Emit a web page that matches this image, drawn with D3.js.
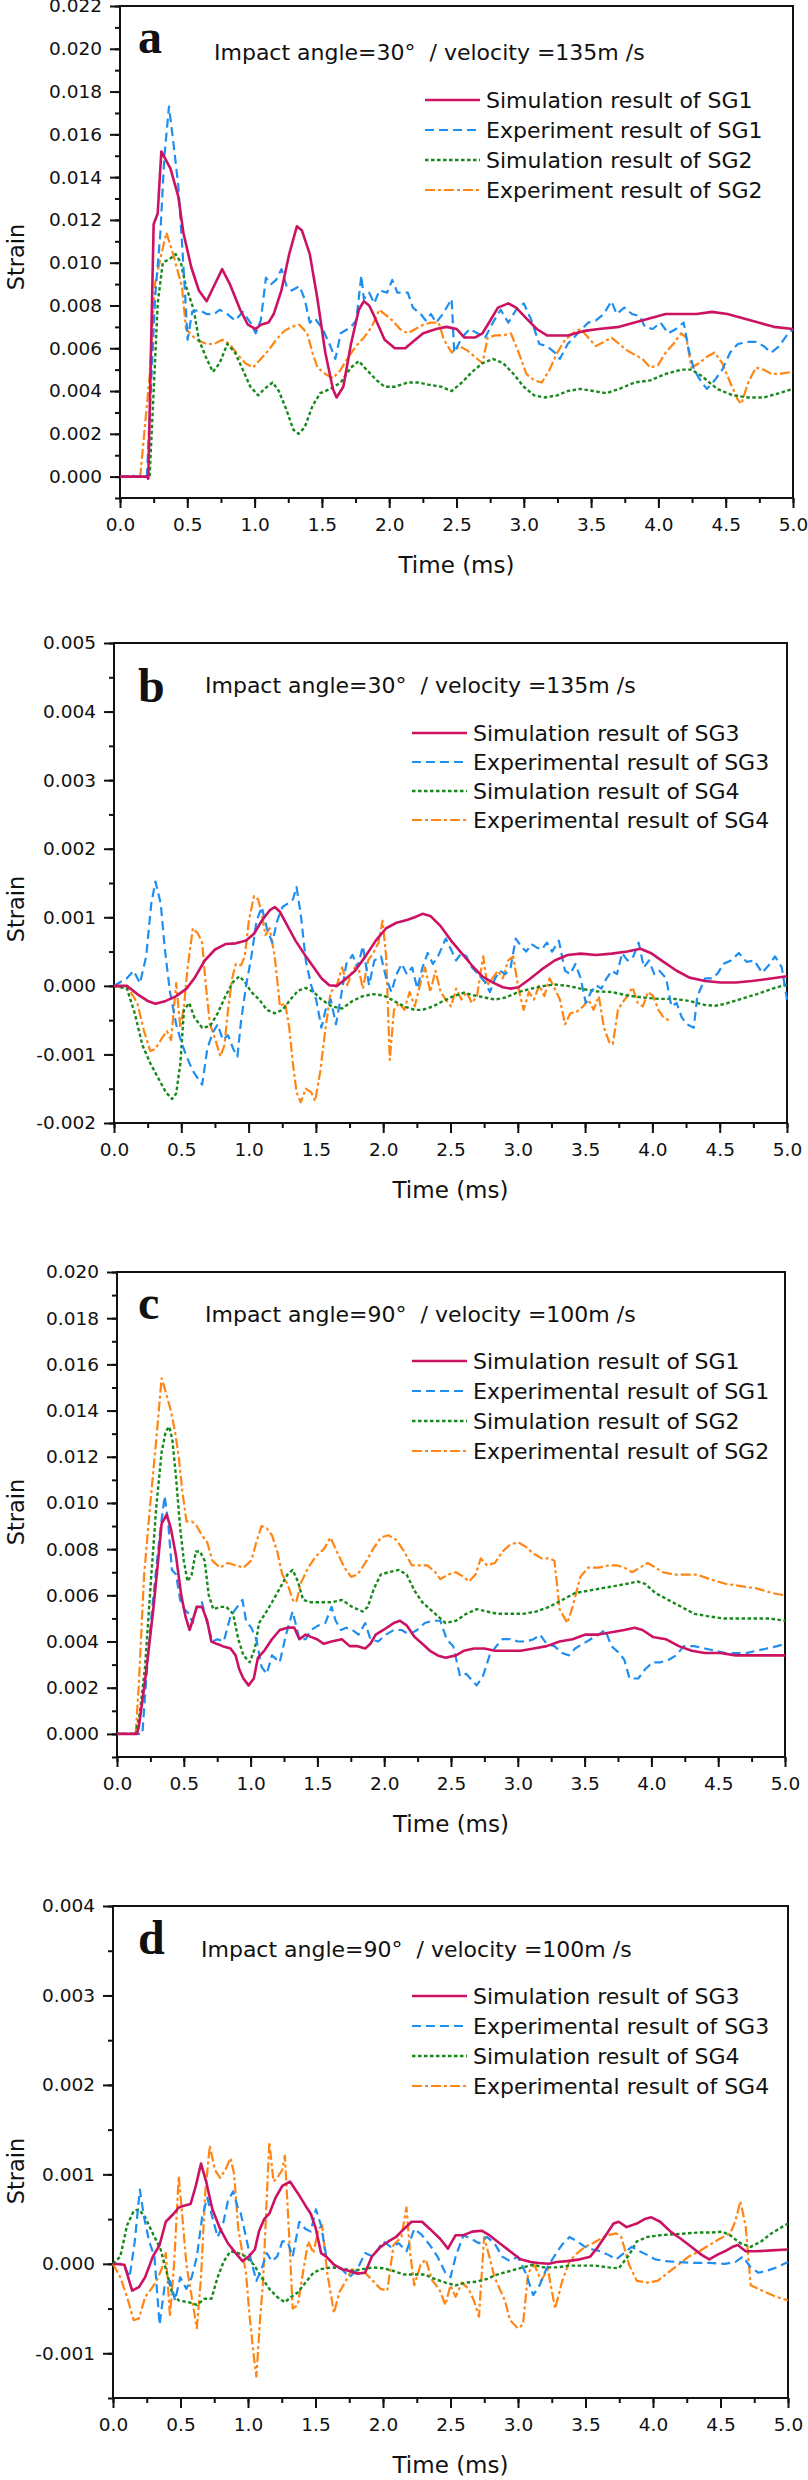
<!DOCTYPE html>
<html>
<head>
<meta charset="utf-8">
<script src="https://cdn.jsdelivr.net/npm/d3@7"></script>
<style>
  body { margin: 0; background: #fff; }
  svg { display: block; }
  text { font-family: "DejaVu Sans", sans-serif; fill: #111; }
</style>
</head>
<body>
<div id="chart"></div>
<script>
(function () {
  'use strict';

  // ---- data: [time (ms), strain] ----
  var aSimSG1 = [[0,0],[0.2,0],[0.21,-0.0001],[0.25,0.0118],[0.28,0.0123],[0.307,0.0152],[0.375,0.0144],[0.433,0.0131],[0.471,0.0114],[0.529,0.0098],[0.586,0.0087],[0.644,0.0082],[0.682,0.0087],[0.759,0.0097],[0.816,0.009],[0.893,0.0078],[0.95,0.0071],[1.008,0.0069],[1.046,0.0071],[1.103,0.0072],[1.142,0.0076],[1.199,0.0087],[1.257,0.0104],[1.314,0.0117],[1.352,0.0115],[1.41,0.0104],[1.467,0.0083],[1.525,0.0058],[1.582,0.0041],[1.609,0.0037],[1.659,0.0042],[1.716,0.0062],[1.774,0.0078],[1.812,0.0082],[1.851,0.008],[1.889,0.0075],[1.966,0.0064],[2.042,0.006],[2.119,0.006],[2.176,0.0063],[2.253,0.0067],[2.349,0.0069],[2.425,0.007],[2.502,0.0069],[2.559,0.0065],[2.636,0.0065],[2.693,0.0067],[2.751,0.0073],[2.808,0.0079],[2.885,0.0081],[2.943,0.0079],[3.019,0.0074],[3.096,0.0069],[3.172,0.0066],[3.249,0.0066],[3.326,0.0066],[3.44,0.0068],[3.556,0.0069],[3.709,0.007],[3.824,0.0072],[3.939,0.0074],[4.054,0.0076],[4.169,0.0076],[4.284,0.0076],[4.398,0.0077],[4.513,0.0076],[4.628,0.0074],[4.743,0.0072],[4.858,0.007],[5,0.0069]];
  var aExpSG1 = [[0,0],[0.07,0],[0.09,0.0001],[0.11,0],[0.2,0],[0.26,0.0083],[0.3,0.0114],[0.33,0.015],[0.364,0.0173],[0.395,0.0157],[0.433,0.0136],[0.46,0.011],[0.483,0.0086],[0.502,0.0064],[0.536,0.0077],[0.586,0.0078],[0.644,0.0076],[0.7,0.0076],[0.74,0.0078],[0.797,0.0076],[0.854,0.0073],[0.912,0.0077],[0.969,0.0072],[1.008,0.0067],[1.046,0.0073],[1.084,0.0093],[1.123,0.009],[1.16,0.0092],[1.2,0.0097],[1.238,0.0089],[1.276,0.0087],[1.333,0.0089],[1.372,0.0083],[1.41,0.0072],[1.448,0.0074],[1.506,0.0069],[1.563,0.0061],[1.6,0.0055],[1.64,0.0067],[1.716,0.007],[1.755,0.0073],[1.793,0.0094],[1.812,0.0083],[1.851,0.0086],[1.889,0.0081],[1.927,0.0087],[1.985,0.0086],[2.023,0.0092],[2.061,0.0086],[2.138,0.0086],[2.176,0.0079],[2.234,0.0076],[2.272,0.0073],[2.31,0.0076],[2.349,0.0072],[2.398,0.0076],[2.464,0.0083],[2.483,0.0058],[2.54,0.0065],[2.598,0.0069],[2.655,0.0067],[2.713,0.0065],[2.77,0.0072],[2.828,0.0078],[2.885,0.0072],[2.943,0.0078],[3.0,0.0081],[3.057,0.0073],[3.115,0.0062],[3.172,0.0061],[3.23,0.0058],[3.268,0.0055],[3.326,0.0062],[3.402,0.0067],[3.479,0.0072],[3.536,0.0073],[3.594,0.0076],[3.651,0.0082],[3.69,0.0076],[3.747,0.0079],[3.805,0.0076],[3.862,0.0075],[3.9,0.007],[3.958,0.0069],[4.015,0.0072],[4.073,0.0067],[4.13,0.0069],[4.188,0.0072],[4.226,0.0059],[4.264,0.005],[4.322,0.0044],[4.36,0.0041],[4.418,0.0045],[4.475,0.005],[4.533,0.0058],[4.59,0.0062],[4.667,0.0063],[4.724,0.0063],[4.782,0.0061],[4.839,0.0058],[4.897,0.0061],[4.954,0.0066],[5,0.0069]];
  var aSimSG2 = [[0,0],[0.22,0],[0.25,0.004],[0.28,0.0081],[0.318,0.01],[0.375,0.0102],[0.414,0.0104],[0.452,0.01],[0.49,0.0089],[0.548,0.0078],[0.586,0.0064],[0.644,0.0055],[0.69,0.0049],[0.74,0.0053],[0.797,0.0062],[0.854,0.0058],[0.912,0.005],[0.969,0.0042],[1.027,0.0038],[1.073,0.0041],[1.134,0.0044],[1.18,0.004],[1.238,0.0031],[1.287,0.0022],[1.326,0.002],[1.372,0.0023],[1.43,0.0033],[1.487,0.0039],[1.563,0.0041],[1.64,0.0044],[1.716,0.0051],[1.774,0.0054],[1.831,0.005],[1.908,0.0045],[1.966,0.0042],[2.042,0.0042],[2.138,0.0044],[2.215,0.0044],[2.291,0.0043],[2.387,0.0042],[2.464,0.004],[2.54,0.0044],[2.617,0.0049],[2.693,0.0053],[2.77,0.0055],[2.847,0.0053],[2.923,0.0048],[3.0,0.0042],[3.077,0.0038],[3.153,0.0037],[3.249,0.0038],[3.326,0.004],[3.421,0.0041],[3.517,0.004],[3.613,0.0039],[3.709,0.0041],[3.824,0.0044],[3.939,0.0045],[4.054,0.0048],[4.169,0.005],[4.245,0.005],[4.322,0.0047],[4.437,0.0041],[4.552,0.0038],[4.667,0.0037],[4.782,0.0037],[4.897,0.0039],[5,0.0041]];
  var aExpSG2 = [[0,0],[0.15,0],[0.22,0.0047],[0.26,0.009],[0.307,0.0104],[0.345,0.0114],[0.395,0.0104],[0.433,0.0095],[0.46,0.0089],[0.49,0.0069],[0.52,0.0067],[0.567,0.0064],[0.644,0.0062],[0.7,0.0062],[0.759,0.0064],[0.816,0.0062],[0.874,0.0057],[0.931,0.0053],[0.989,0.0051],[1.046,0.0055],[1.103,0.0059],[1.161,0.0064],[1.218,0.0068],[1.276,0.007],[1.333,0.0071],[1.391,0.0067],[1.43,0.0058],[1.467,0.0051],[1.525,0.0048],[1.582,0.0046],[1.64,0.005],[1.697,0.0056],[1.755,0.0061],[1.812,0.0065],[1.87,0.007],[1.927,0.0078],[1.966,0.0076],[2.023,0.0073],[2.08,0.0069],[2.138,0.0067],[2.195,0.0069],[2.253,0.0071],[2.31,0.0072],[2.368,0.0072],[2.406,0.0064],[2.464,0.0058],[2.521,0.0061],[2.579,0.0059],[2.636,0.0056],[2.693,0.0053],[2.732,0.0065],[2.789,0.0066],[2.847,0.0066],[2.904,0.0067],[2.962,0.0058],[3.019,0.0048],[3.077,0.0045],[3.134,0.0044],[3.192,0.005],[3.249,0.0058],[3.307,0.0064],[3.364,0.0067],[3.421,0.0069],[3.479,0.0065],[3.536,0.0061],[3.594,0.0063],[3.651,0.0065],[3.709,0.0062],[3.766,0.0059],[3.824,0.0057],[3.881,0.0055],[3.939,0.0051],[3.996,0.0052],[4.054,0.0058],[4.111,0.0062],[4.169,0.0067],[4.207,0.0065],[4.245,0.0051],[4.303,0.0053],[4.36,0.0056],[4.418,0.0058],[4.475,0.0053],[4.533,0.0044],[4.59,0.0036],[4.617,0.0034],[4.667,0.0044],[4.724,0.0051],[4.782,0.005],[4.839,0.0048],[4.897,0.0048],[5,0.0049]];

  var bSimSG3 = [[0,0],[0.096,0],[0.173,-0.00012],[0.25,-0.00022],[0.308,-0.00026],[0.385,-0.00022],[0.462,-0.00015],[0.539,-0.00004],[0.597,0.00011],[0.674,0.00037],[0.751,0.00053],[0.828,0.00061],[0.905,0.00062],[0.982,0.00066],[1.04,0.00076],[1.098,0.00095],[1.156,0.0011],[1.194,0.00115],[1.233,0.00108],[1.29,0.00087],[1.348,0.00066],[1.425,0.00043],[1.483,0.00027],[1.541,0.00011],[1.599,0.00001],[1.656,0],[1.714,0.00009],[1.791,0.00022],[1.868,0.00043],[1.945,0.00066],[2.022,0.00084],[2.099,0.00092],[2.176,0.00096],[2.234,0.001],[2.292,0.00105],[2.35,0.00102],[2.427,0.00087],[2.504,0.00066],[2.581,0.00048],[2.658,0.0003],[2.735,0.00014],[2.812,0.00005],[2.889,-0.00002],[2.947,-0.00004],[3.005,-0.00002],[3.082,0.00009],[3.178,0.00024],[3.274,0.00037],[3.371,0.00045],[3.467,0.00047],[3.582,0.00045],[3.698,0.00047],[3.814,0.0005],[3.91,0.00054],[3.987,0.00048],[4.083,0.00035],[4.18,0.00022],[4.276,0.00012],[4.391,0.00007],[4.507,0.00005],[4.622,0.00005],[4.738,0.00007],[4.854,0.0001],[5,0.00014]];
  var bExpSG3 = [[0,0],[0.096,0.00011],[0.146,0.00022],[0.193,0.00004],[0.239,0.00043],[0.277,0.0012],[0.308,0.00152],[0.347,0.0012],[0.378,0.00053],[0.416,-0.00009],[0.462,-0.00056],[0.5,-0.00082],[0.539,-0.00103],[0.586,-0.00124],[0.636,-0.00139],[0.655,-0.00144],[0.693,-0.00092],[0.732,-0.00069],[0.77,-0.00056],[0.809,-0.00079],[0.847,-0.00072],[0.886,-0.00092],[0.917,-0.00103],[0.944,-0.00051],[0.982,0.00001],[1.021,0.00043],[1.059,0.00095],[1.098,0.00115],[1.136,0.00084],[1.175,0.00063],[1.213,0.00095],[1.252,0.00115],[1.29,0.0012],[1.329,0.00126],[1.356,0.00144],[1.387,0.00105],[1.425,0.00037],[1.464,0.00001],[1.502,-0.0002],[1.541,-0.00061],[1.572,-0.00035],[1.61,-0.0002],[1.649,-0.00056],[1.687,-0.00015],[1.726,0.00032],[1.772,0.00045],[1.81,0.00027],[1.849,0.00058],[1.895,0.00001],[1.934,0.00037],[1.984,0.00043],[2.022,0.00011],[2.061,-0.00009],[2.099,0.00017],[2.138,0.00032],[2.176,0.00017],[2.215,0.00027],[2.253,-0.00004],[2.292,0.00027],[2.331,0.00048],[2.369,0.00032],[2.407,0.00043],[2.465,0.00069],[2.504,0.00053],[2.542,0.00037],[2.581,0.00048],[2.619,0.00043],[2.658,0.00027],[2.697,0.00019],[2.754,0.00006],[2.793,-0.00009],[2.831,0.00011],[2.87,0.00022],[2.908,0.00017],[2.947,0.00027],[2.985,0.00069],[3.024,0.00058],[3.062,0.0005],[3.101,0.00061],[3.139,0.00056],[3.178,0.00053],[3.216,0.00063],[3.255,0.0005],[3.305,0.00066],[3.351,0.00022],[3.39,0.00017],[3.428,0.00032],[3.467,0.00011],[3.505,-0.00025],[3.544,-0.00009],[3.582,0.00001],[3.621,-0.00004],[3.66,0.00011],[3.698,0.00022],[3.737,0.00017],[3.775,0.00048],[3.814,0.00037],[3.852,0.0004],[3.898,0.00063],[3.937,0.00027],[3.975,0.00037],[4.014,0.00017],[4.052,0.00022],[4.102,0.00011],[4.141,-0.0003],[4.18,-0.00025],[4.218,-0.00046],[4.257,-0.00056],[4.307,-0.00061],[4.334,-0.00015],[4.391,0.00011],[4.449,0.00011],[4.488,0.00019],[4.526,0.00032],[4.584,0.00037],[4.642,0.00048],[4.7,0.00035],[4.757,0.00037],[4.815,0.00019],[4.873,0.00032],[4.911,0.00043],[4.961,0.00027],[5,-0.0002]];
  var bSimSG4 = [[0,0],[0.096,-0.00004],[0.154,-0.0004],[0.212,-0.00087],[0.27,-0.00113],[0.327,-0.00134],[0.385,-0.00155],[0.431,-0.00165],[0.462,-0.00157],[0.493,-0.00113],[0.52,-0.00035],[0.559,-0.00025],[0.597,-0.00046],[0.655,-0.00061],[0.713,-0.00059],[0.77,-0.0004],[0.828,-0.00015],[0.886,0.00006],[0.932,0.00014],[0.971,0.00006],[1.021,-0.00009],[1.079,-0.0002],[1.136,-0.00035],[1.194,-0.0004],[1.252,-0.00035],[1.31,-0.0002],[1.368,-0.00007],[1.425,-0.00003],[1.483,-0.00009],[1.541,-0.0002],[1.618,-0.0003],[1.695,-0.00033],[1.772,-0.00022],[1.849,-0.00015],[1.926,-0.00012],[2.003,-0.00014],[2.08,-0.00022],[2.157,-0.0003],[2.234,-0.00035],[2.292,-0.00035],[2.369,-0.0003],[2.446,-0.00022],[2.523,-0.00015],[2.6,-0.0001],[2.677,-0.00014],[2.754,-0.00017],[2.831,-0.0002],[2.908,-0.00017],[3.005,-0.00009],[3.101,-0.00004],[3.197,0],[3.274,0.00002],[3.371,0],[3.467,-0.00004],[3.582,-0.00008],[3.698,-0.00009],[3.814,-0.00014],[3.929,-0.00017],[4.045,-0.00019],[4.16,-0.00019],[4.276,-0.00022],[4.391,-0.00028],[4.468,-0.00029],[4.545,-0.00026],[4.661,-0.00019],[4.777,-0.00012],[4.892,-0.00004],[5,0.00002]];
  var bExpSG4 = [[0,0],[0.108,-0.00004],[0.173,-0.00025],[0.223,-0.00066],[0.27,-0.00095],[0.308,-0.00092],[0.354,-0.00077],[0.393,-0.00066],[0.424,-0.00079],[0.462,0.00004],[0.493,-0.00061],[0.52,-0.0003],[0.547,0.00027],[0.586,0.00084],[0.624,0.00076],[0.655,0.00063],[0.682,0.00001],[0.713,-0.00056],[0.751,-0.00077],[0.79,-0.00103],[0.82,-0.00087],[0.847,-0.00035],[0.878,0.00011],[0.905,0.00032],[0.944,0.0003],[0.971,0.00043],[1.002,0.00095],[1.04,0.00131],[1.071,0.00126],[1.098,0.00105],[1.125,0.00074],[1.156,0.00084],[1.194,0.00043],[1.233,-0.0003],[1.271,-0.00025],[1.302,-0.00061],[1.329,-0.00113],[1.356,-0.00155],[1.387,-0.0017],[1.425,-0.0015],[1.464,-0.00155],[1.495,-0.00168],[1.533,-0.00124],[1.572,-0.00061],[1.61,-0.00009],[1.656,0.00001],[1.695,0.00027],[1.733,0.00001],[1.772,0.00022],[1.81,0.00032],[1.849,-0.00004],[1.888,0.00037],[1.926,0.00048],[1.965,0.00063],[1.995,0.00095],[2.022,0.00043],[2.049,-0.00108],[2.08,-0.00035],[2.119,-0.00025],[2.157,-0.00035],[2.196,-0.00009],[2.234,-0.0003],[2.273,0.00001],[2.311,0.00027],[2.35,-0.00009],[2.388,0.00022],[2.427,-0.00009],[2.465,-0.0002],[2.504,-0.0003],[2.542,-0.00004],[2.581,-0.0002],[2.619,-0.00009],[2.658,-0.00025],[2.697,-0.00015],[2.743,0.00043],[2.773,0.00001],[2.812,0.00011],[2.851,0.00022],[2.889,0.00011],[2.928,0.00037],[2.966,0.00043],[3.005,-0.00004],[3.043,-0.00035],[3.082,-0.00009],[3.12,-0.0002],[3.159,0.00001],[3.197,-0.00015],[3.236,0.00011],[3.274,-0.00004],[3.313,-0.0002],[3.351,-0.00056],[3.39,-0.0004],[3.436,-0.00038],[3.486,-0.0003],[3.525,-0.0002],[3.563,-0.00035],[3.602,-0.00015],[3.64,-0.00061],[3.679,-0.00082],[3.706,-0.00085],[3.744,-0.00035],[3.775,-0.00025],[3.814,-0.00015],[3.852,-0.00002],[3.891,-0.00025],[3.929,-0.0003],[3.968,-0.00009],[4.006,-0.00015],[4.045,-0.00035],[4.083,-0.00046],[4.13,-0.00051]];

  var cSimSG1 = [[0,0],[0.15,0],[0.163,0.0003],[0.21,0.0023],[0.268,0.0052],[0.306,0.0074],[0.334,0.0091],[0.372,0.0095],[0.403,0.0089],[0.442,0.0077],[0.481,0.006],[0.512,0.0051],[0.543,0.0045],[0.566,0.0049],[0.597,0.0055],[0.636,0.0055],[0.675,0.0049],[0.706,0.004],[0.745,0.0039],[0.791,0.0038],[0.85,0.0037],[0.888,0.0034],[0.915,0.0028],[0.946,0.0024],[0.985,0.0021],[1.024,0.0024],[1.055,0.0033],[1.102,0.0036],[1.16,0.0041],[1.218,0.0045],[1.276,0.0046],[1.327,0.0046],[1.365,0.0041],[1.412,0.0043],[1.451,0.0042],[1.497,0.0041],[1.548,0.0039],[1.606,0.004],[1.683,0.0041],[1.742,0.0038],[1.8,0.0038],[1.858,0.0037],[1.897,0.0039],[1.936,0.0043],[1.994,0.0045],[2.071,0.0048],[2.118,0.0049],[2.168,0.0047],[2.227,0.0042],[2.285,0.0039],[2.343,0.0036],[2.401,0.0034],[2.459,0.0033],[2.537,0.0034],[2.595,0.0036],[2.673,0.0037],[2.75,0.0037],[2.828,0.0036],[2.925,0.0036],[3.022,0.0036],[3.119,0.0037],[3.216,0.0038],[3.313,0.004],[3.41,0.0041],[3.507,0.0043],[3.604,0.0043],[3.701,0.0044],[3.798,0.0045],[3.875,0.0046],[3.933,0.0045],[4.011,0.0042],[4.108,0.0041],[4.205,0.0038],[4.302,0.0036],[4.399,0.0035],[4.515,0.0035],[4.632,0.0034],[4.748,0.0034],[4.864,0.0034],[5,0.0034]];
  var cExpSG1 = [[0,0],[0.19,0],[0.21,0.0017],[0.248,0.0045],[0.287,0.0068],[0.326,0.0089],[0.357,0.0103],[0.384,0.0091],[0.411,0.0071],[0.442,0.0069],[0.473,0.0058],[0.504,0.0054],[0.539,0.0052],[0.566,0.0048],[0.597,0.0055],[0.636,0.0057],[0.675,0.0048],[0.714,0.004],[0.753,0.0041],[0.799,0.004],[0.85,0.0051],[0.9,0.0055],[0.939,0.0058],[0.966,0.0049],[1.005,0.0046],[1.043,0.0041],[1.082,0.0029],[1.121,0.0026],[1.16,0.0034],[1.218,0.0031],[1.265,0.0043],[1.315,0.0053],[1.365,0.0041],[1.412,0.0041],[1.451,0.0045],[1.509,0.0047],[1.559,0.0048],[1.606,0.0055],[1.637,0.0049],[1.676,0.0045],[1.715,0.0046],[1.761,0.0045],[1.808,0.0043],[1.858,0.0048],[1.897,0.0041],[1.955,0.004],[2.013,0.0043],[2.071,0.0045],[2.13,0.0045],[2.188,0.0043],[2.246,0.0045],[2.304,0.0048],[2.362,0.0049],[2.42,0.0049],[2.467,0.0041],[2.517,0.0038],[2.568,0.0025],[2.614,0.0026],[2.661,0.0023],[2.692,0.0021],[2.739,0.0025],[2.789,0.0034],[2.839,0.0038],[2.886,0.0041],[2.944,0.0041],[3.002,0.004],[3.061,0.004],[3.119,0.0041],[3.165,0.0043],[3.216,0.0039],[3.274,0.0038],[3.332,0.0035],[3.382,0.0034],[3.429,0.0037],[3.487,0.0039],[3.545,0.0041],[3.604,0.0043],[3.654,0.0045],[3.701,0.0038],[3.759,0.0035],[3.798,0.0032],[3.836,0.0024],[3.902,0.0024],[3.953,0.0028],[4.011,0.0031],[4.069,0.0031],[4.127,0.0032],[4.185,0.0034],[4.243,0.0038],[4.321,0.0038],[4.399,0.0037],[4.476,0.0036],[4.554,0.0035],[4.632,0.0035],[4.709,0.0035],[4.787,0.0036],[4.864,0.0037],[4.942,0.0038],[5,0.0039]];
  var cSimSG2 = [[0,0],[0.14,0],[0.171,0.0009],[0.21,0.0029],[0.256,0.0068],[0.295,0.0099],[0.334,0.0122],[0.365,0.0131],[0.392,0.0133],[0.415,0.0127],[0.442,0.0111],[0.473,0.0089],[0.5,0.0075],[0.528,0.0066],[0.559,0.0069],[0.59,0.0079],[0.621,0.0079],[0.656,0.0075],[0.687,0.006],[0.721,0.0054],[0.772,0.0055],[0.818,0.0055],[0.869,0.0052],[0.908,0.0041],[0.946,0.0034],[0.993,0.0031],[1.032,0.0037],[1.063,0.0048],[1.109,0.0052],[1.16,0.0057],[1.218,0.0063],[1.276,0.0069],[1.315,0.0071],[1.354,0.0066],[1.393,0.0058],[1.451,0.0057],[1.528,0.0057],[1.606,0.0057],[1.683,0.0058],[1.761,0.0055],[1.839,0.0053],[1.877,0.0055],[1.924,0.0063],[1.974,0.0069],[2.032,0.007],[2.11,0.0071],[2.168,0.0069],[2.227,0.0062],[2.285,0.0057],[2.343,0.0054],[2.401,0.0051],[2.459,0.0048],[2.537,0.0049],[2.614,0.0052],[2.692,0.0054],[2.77,0.0053],[2.847,0.0052],[2.944,0.0052],[3.041,0.0052],[3.138,0.0053],[3.235,0.0055],[3.332,0.0058],[3.429,0.0061],[3.526,0.0062],[3.623,0.0063],[3.72,0.0064],[3.817,0.0065],[3.895,0.0066],[3.953,0.0065],[4.03,0.0061],[4.127,0.0058],[4.224,0.0055],[4.321,0.0052],[4.418,0.0051],[4.535,0.005],[4.651,0.005],[4.767,0.005],[4.884,0.005],[5,0.0049]];
  var cExpSG2 = [[0,0],[0.14,0],[0.163,0.0021],[0.202,0.0068],[0.248,0.0099],[0.295,0.0128],[0.334,0.0154],[0.365,0.0148],[0.403,0.014],[0.434,0.0131],[0.462,0.012],[0.489,0.0105],[0.52,0.0092],[0.559,0.0092],[0.597,0.009],[0.636,0.0086],[0.675,0.0083],[0.714,0.0075],[0.772,0.0072],[0.83,0.0074],[0.888,0.0073],[0.946,0.0072],[1.005,0.0075],[1.043,0.0083],[1.082,0.009],[1.121,0.0089],[1.16,0.0086],[1.199,0.0079],[1.237,0.0069],[1.276,0.0065],[1.315,0.0058],[1.342,0.0057],[1.373,0.0065],[1.431,0.0072],[1.49,0.0077],[1.548,0.008],[1.598,0.0085],[1.645,0.0079],[1.703,0.0072],[1.753,0.0068],[1.8,0.0069],[1.858,0.0074],[1.916,0.008],[1.974,0.0085],[2.032,0.0086],[2.091,0.0084],[2.149,0.0079],[2.207,0.0073],[2.265,0.0073],[2.323,0.0073],[2.382,0.007],[2.42,0.0067],[2.479,0.0069],[2.537,0.007],[2.595,0.0068],[2.634,0.0066],[2.684,0.0069],[2.723,0.0076],[2.77,0.0073],[2.828,0.0074],[2.886,0.0079],[2.944,0.0082],[3.002,0.0083],[3.061,0.0081],[3.119,0.0078],[3.177,0.0076],[3.235,0.0076],[3.274,0.0075],[3.313,0.0054],[3.371,0.0048],[3.41,0.0055],[3.468,0.0068],[3.526,0.0072],[3.604,0.0072],[3.681,0.0073],[3.739,0.0073],[3.798,0.0072],[3.856,0.007],[3.914,0.0072],[3.972,0.0074],[4.03,0.0072],[4.088,0.007],[4.166,0.0069],[4.244,0.0069],[4.341,0.0069],[4.438,0.0067],[4.554,0.0065],[4.67,0.0064],[4.787,0.0063],[4.903,0.0061],[5,0.006]];

  var dSimSG3 = [[0,0],[0.084,-0.00001],[0.142,-0.0003],[0.192,-0.00026],[0.238,-0.00015],[0.295,0.00008],[0.345,0.00021],[0.391,0.00047],[0.449,0.00056],[0.487,0.00063],[0.525,0.00065],[0.575,0.00067],[0.613,0.00087],[0.652,0.00112],[0.69,0.00092],[0.736,0.00061],[0.794,0.00039],[0.851,0.00023],[0.909,0.00012],[0.959,0.00003],[1.005,0.00008],[1.051,0.00016],[1.081,0.00036],[1.12,0.0005],[1.158,0.00056],[1.204,0.00074],[1.254,0.00087],[1.311,0.00092],[1.369,0.00079],[1.426,0.00065],[1.465,0.00056],[1.503,0.00039],[1.541,0.00012],[1.58,0.00008],[1.637,-0.00001],[1.695,-0.00006],[1.752,-0.00008],[1.81,-0.00011],[1.867,-0.0001],[1.917,0.00008],[1.982,0.00019],[2.04,0.00025],[2.097,0.0003],[2.155,0.00039],[2.212,0.00047],[2.289,0.00047],[2.347,0.00039],[2.423,0.00028],[2.481,0.00017],[2.538,0.00032],[2.596,0.00032],[2.661,0.00036],[2.73,0.00037],[2.788,0.00032],[2.864,0.00023],[2.941,0.00014],[3.018,0.00005],[3.094,0.00002],[3.152,0.00001],[3.229,0],[3.286,0.00002],[3.363,0.00003],[3.459,0.00005],[3.535,0.00008],[3.593,0.00019],[3.65,0.00032],[3.708,0.00045],[3.746,0.00047],[3.804,0.00041],[3.88,0.00045],[3.938,0.0005],[3.988,0.00052],[4.053,0.00047],[4.13,0.00036],[4.206,0.00028],[4.283,0.00019],[4.36,0.0001],[4.417,0.00005],[4.475,0.0001],[4.532,0.00014],[4.59,0.00019],[4.628,0.00021],[4.686,0.00014],[4.762,0.00014],[4.877,0.00015],[5,0.00016]];
  var dExpSG3 = [[0,0],[0.077,0],[0.123,-0.00015],[0.161,0.00025],[0.199,0.00083],[0.23,0.00052],[0.268,0.00025],[0.307,0.00008],[0.345,-0.00068],[0.383,-0.00024],[0.422,-0.00019],[0.46,-0.00041],[0.498,-0.00015],[0.544,-0.00028],[0.583,-0.00015],[0.621,0.00008],[0.66,0.00052],[0.698,0.00074],[0.736,0.00052],[0.775,0.0003],[0.813,0.00043],[0.851,0.0007],[0.89,0.00081],[0.92,0.00065],[0.947,0.00056],[0.985,0.0003],[1.024,0.00003],[1.062,-0.00019],[1.1,-0.00006],[1.139,0.00012],[1.177,0.00003],[1.216,0.00008],[1.254,0.00025],[1.292,0.00025],[1.331,0.00008],[1.38,0.00047],[1.426,0.00039],[1.465,0.00036],[1.503,0.00061],[1.541,0.00043],[1.58,0.00008],[1.637,-0.00001],[1.695,-0.00006],[1.752,-0.00015],[1.81,-0.00006],[1.867,0.00012],[1.925,0.00008],[2.002,0.00025],[2.059,0.00019],[2.117,0.00023],[2.174,0.00014],[2.232,0.00039],[2.289,0.00032],[2.347,0.00021],[2.404,0.00008],[2.462,-0.0001],[2.5,-0.00015],[2.538,0.00008],[2.596,0.00032],[2.653,0.00028],[2.711,0.00023],[2.768,0.0003],[2.826,0.00023],[2.883,0.00008],[2.941,0.00003],[2.998,0.00008],[3.056,-0.0001],[3.113,-0.00035],[3.16,-0.00024],[3.209,-0.00006],[3.267,0.00008],[3.324,0.00021],[3.382,0.0003],[3.439,0.00025],[3.497,0.00019],[3.554,0.00016],[3.612,0.00014],[3.669,0.0001],[3.727,0.00005],[3.785,0.00012],[3.842,0.00019],[3.9,0.00014],[3.957,0.0001],[4.015,0.00005],[4.091,0.00003],[4.187,0.00002],[4.302,0.00001],[4.417,0.00001],[4.532,0],[4.609,0.00002],[4.666,0.00008],[4.724,-0.00004],[4.781,-0.0001],[4.839,-0.00008],[4.916,-0.00004],[5,0.00002]];
  var dSimSG4 = [[0,0],[0.054,0.00008],[0.104,0.00043],[0.153,0.00059],[0.192,0.00061],[0.238,0.00052],[0.295,0.00034],[0.353,0.00016],[0.399,-0.0001],[0.437,-0.00032],[0.487,-0.00041],[0.564,-0.00043],[0.621,-0.00046],[0.679,-0.00039],[0.729,-0.00039],[0.775,-0.00015],[0.821,0.00003],[0.87,0.00014],[0.928,0.00012],[0.985,0.00008],[1.043,-0.00001],[1.1,-0.00015],[1.158,-0.00028],[1.216,-0.00037],[1.273,-0.00043],[1.319,-0.00037],[1.369,-0.00032],[1.426,-0.00021],[1.484,-0.0001],[1.541,-0.00006],[1.618,-0.00004],[1.695,-0.00005],[1.771,-0.00008],[1.848,-0.00006],[1.925,-0.00004],[2.002,-0.00005],[2.078,-0.00008],[2.155,-0.00012],[2.232,-0.00012],[2.309,-0.00012],[2.385,-0.00017],[2.462,-0.00021],[2.538,-0.00024],[2.615,-0.00021],[2.692,-0.0002],[2.768,-0.00017],[2.845,-0.00012],[2.941,-0.00008],[3.037,-0.00004],[3.113,-0.00001],[3.19,-0.00004],[3.286,-0.00004],[3.382,-0.00002],[3.478,-0.00002],[3.574,-0.00002],[3.669,-0.00004],[3.746,-0.00005],[3.823,0.0001],[3.88,0.00025],[3.957,0.0003],[4.053,0.00032],[4.149,0.00033],[4.245,0.00034],[4.341,0.00035],[4.436,0.00035],[4.513,0.00036],[4.571,0.00032],[4.647,0.00023],[4.724,0.00019],[4.801,0.00025],[4.877,0.00034],[4.954,0.00041],[5,0.00045]];
  var dExpSG4 = [[0,0],[0.054,-0.00015],[0.104,-0.00037],[0.153,-0.00063],[0.192,-0.00061],[0.238,-0.00037],[0.284,-0.00028],[0.322,-0.00019],[0.36,-0.00006],[0.391,0.00012],[0.422,-0.00059],[0.452,-0.00001],[0.487,0.00098],[0.514,0.00052],[0.544,-0.00001],[0.583,-0.00037],[0.621,-0.00072],[0.652,-0.00015],[0.683,0.00079],[0.717,0.00132],[0.755,0.00105],[0.794,0.00096],[0.832,0.00105],[0.87,0.00118],[0.897,0.00101],[0.928,0.00039],[0.959,0.00012],[0.985,-0.0001],[1.012,-0.00059],[1.043,-0.00103],[1.062,-0.00126],[1.089,-0.00063],[1.112,-0.00019],[1.139,0.00074],[1.158,0.00136],[1.189,0.00092],[1.216,0.00096],[1.254,0.00105],[1.273,0.00121],[1.304,0.00034],[1.331,-0.0005],[1.369,-0.00046],[1.407,-0.0001],[1.446,0.00025],[1.484,0.00012],[1.522,0.00039],[1.549,0.00043],[1.587,-0.0001],[1.637,-0.00055],[1.676,-0.00032],[1.725,-0.00019],[1.771,-0.00006],[1.817,-0.0001],[1.867,-0.0001],[1.925,-0.00019],[1.982,-0.00028],[2.032,-0.0003],[2.078,0.00021],[2.136,0.0003],[2.174,0.00063],[2.201,0.00012],[2.232,-0.00024],[2.278,-0.00001],[2.316,0.00005],[2.366,-0.00019],[2.416,-0.00028],[2.462,-0.00046],[2.5,-0.00024],[2.538,-0.00037],[2.584,-0.00021],[2.634,-0.00028],[2.673,-0.00041],[2.711,-0.00059],[2.749,0.0003],[2.788,0.00008],[2.826,-0.00015],[2.864,-0.00028],[2.903,-0.00041],[2.941,-0.00063],[2.998,-0.00072],[3.037,-0.00068],[3.075,-0.0001],[3.121,-0.00001],[3.171,-0.00019],[3.221,-0.00006],[3.275,-0.0005],[3.328,-0.00019],[3.382,0.00003],[3.439,0.00012],[3.497,0.00019],[3.554,0.00023],[3.612,0.00028],[3.669,0.00032],[3.727,0.00034],[3.765,0.0003],[3.823,-0.00001],[3.88,-0.00019],[3.957,-0.00021],[4.034,-0.00019],[4.111,-0.0001],[4.187,-0.00001],[4.264,0.00008],[4.341,0.00014],[4.417,0.00021],[4.494,0.00028],[4.571,0.00034],[4.609,0.00047],[4.647,0.0007],[4.686,0.00043],[4.724,-0.00024],[4.781,-0.00028],[4.839,-0.00032],[4.916,-0.00037],[5,-0.00041]];

  // ---- tick labels ----
  var xTicks = [0, 0.5, 1, 1.5, 2, 2.5, 3, 3.5, 4, 4.5, 5];
  var yTicksA = [0, 0.002, 0.004, 0.006, 0.008, 0.010, 0.012, 0.014, 0.016, 0.018, 0.020, 0.022];
  var yTicksB = [-0.002, -0.001, 0, 0.001, 0.002, 0.003, 0.004, 0.005];
  var yTicksC = [0, 0.002, 0.004, 0.006, 0.008, 0.010, 0.012, 0.014, 0.016, 0.018, 0.020];
  var yTicksD = [-0.001, 0, 0.001, 0.002, 0.003, 0.004];

  var title30 = 'Impact angle=30°  / velocity =135m /s';
  var title90 = 'Impact angle=90°  / velocity =100m /s';
  var legendA = ['Simulation result of SG1', 'Experiment result of SG1', 'Simulation result of SG2', 'Experiment result of SG2'];
  var legendB = ['Simulation result of SG3', 'Experimental result of SG3', 'Simulation result of SG4', 'Experimental result of SG4'];
  var legendC = ['Simulation result of SG1', 'Experimental result of SG1', 'Simulation result of SG2', 'Experimental result of SG2'];
  var legendD = ['Simulation result of SG3', 'Experimental result of SG3', 'Simulation result of SG4', 'Experimental result of SG4'];

  // line look for the four series: solid, dash, dot, dash-dot
  var seriesStyle = [
    { color: '#cc1262', width: 2.6, dash: null },
    { color: '#1f8ef1', width: 2.2, dash: '9,5' },
    { color: '#18891c', width: 2.4, dash: '3.5,2.5' },
    { color: '#ff8614', width: 2.2, dash: '10,3,3,3' }
  ];

  var panels = [
    { letter: 'a', left: 120, right: 793, top: 6, bottom: 498, yDomain: [-0.001, 0.022], yTicks: yTicksA, yMinor: 0.001,
      series: [aSimSG1, aExpSG1, aSimSG2, aExpSG2], title: title30, titleX: 214, titleY: 60, letterY: 53,
      legend: legendA, legendX: 425, legendY: 100, legendStep: 30, strainY: 257 },
    { letter: 'b', left: 114, right: 787, top: 643, bottom: 1123, yDomain: [-0.002, 0.005], yTicks: yTicksB, yMinor: 0.0005,
      series: [bSimSG3, bExpSG3, bSimSG4, bExpSG4], title: title30, titleX: 205, titleY: 693, letterY: 702,
      legend: legendB, legendX: 412, legendY: 733, legendStep: 29, strainY: 909 },
    { letter: 'c', left: 117, right: 785, top: 1272, bottom: 1757, yDomain: [-0.001, 0.020], yTicks: yTicksC, yMinor: 0.001,
      series: [cSimSG1, cExpSG1, cSimSG2, cExpSG2], title: title90, titleX: 205, titleY: 1322, letterY: 1319,
      legend: legendC, legendX: 412, legendY: 1361, legendStep: 30, strainY: 1512 },
    { letter: 'd', left: 113, right: 788, top: 1906, bottom: 2398, yDomain: [-0.0015, 0.004], yTicks: yTicksD, yMinor: 0.0005,
      series: [dSimSG3, dExpSG3, dSimSG4, dExpSG4], title: title90, titleX: 201, titleY: 1957, letterY: 1954,
      legend: legendD, legendX: 412, legendY: 1996, legendStep: 30, strainY: 2171 }
  ];

  var svg = d3.select('#chart').append('svg')
    .attr('width', 808)
    .attr('height', 2480);

  svg.append('rect').attr('width', 808).attr('height', 2480).attr('fill', '#fff');

  function styleAxis(g) {
    g.select('.domain').remove();
    g.selectAll('line').attr('stroke', '#111').attr('stroke-width', 2);
    g.selectAll('text')
      .style('font-family', '"DejaVu Sans", sans-serif')
      .style('font-size', '18.5px')
      .attr('fill', '#111');
  }

  function drawPanel(p) {
    var x = d3.scaleLinear().domain([0, 5]).range([p.left, p.right]);
    var y = d3.scaleLinear().domain(p.yDomain).range([p.bottom, p.top]);

    var g = svg.append('g').attr('class', 'panel-' + p.letter);

    // minor ticks (no labels)
    var yMinorTicks = d3.range(Math.round(p.yDomain[0] / p.yMinor), Math.round(p.yDomain[1] / p.yMinor) + 1)
      .map(function(i) { return i * p.yMinor; });
    var xMinorTicks = d3.range(0, 21).map(function(i) { return i * 0.25; });

    g.append('g')
      .attr('transform', 'translate(' + p.left + ',0)')
      .call(d3.axisLeft(y).tickValues(yMinorTicks).tickSize(5).tickFormat(''))
      .call(styleAxis);
    g.append('g')
      .attr('transform', 'translate(0,' + p.bottom + ')')
      .call(d3.axisBottom(x).tickValues(xMinorTicks).tickSize(5).tickFormat(''))
      .call(styleAxis);

    // major ticks + labels
    g.append('g')
      .attr('transform', 'translate(' + p.left + ',0)')
      .call(d3.axisLeft(y).tickValues(p.yTicks).tickSize(10).tickPadding(8)
        .tickFormat(function(d) { return d.toFixed(3); }))
      .call(styleAxis);
    g.append('g')
      .attr('transform', 'translate(0,' + p.bottom + ')')
      .call(d3.axisBottom(x).tickValues(xTicks).tickSize(10).tickPadding(10)
        .tickFormat(function(d) { return d.toFixed(1); }))
      .call(styleAxis);

    // frame box
    g.append('rect')
      .attr('x', p.left).attr('y', p.top)
      .attr('width', p.right - p.left).attr('height', p.bottom - p.top)
      .attr('fill', 'none').attr('stroke', '#111').attr('stroke-width', 2);

    // series lines, simulation SG-a drawn last so it sits on top
    var line = d3.line()
      .x(function(d) { return x(d[0]); })
      .y(function(d) { return y(d[1]); });
    [3, 2, 1, 0].forEach(function(i) {
      var s = seriesStyle[i];
      g.append('path')
        .datum(p.series[i])
        .attr('d', line)
        .attr('fill', 'none')
        .attr('stroke', s.color)
        .attr('stroke-width', s.width)
        .attr('stroke-linejoin', 'round')
        .attr('stroke-dasharray', s.dash);
    });

    // panel letter
    g.append('text')
      .attr('x', 138).attr('y', p.letterY)
      .style('font-family', '"Liberation Serif", "Times New Roman", serif')
      .style('font-weight', 'bold')
      .style('font-size', '48px')
      .text(p.letter);

    // condition title
    g.append('text')
      .attr('x', p.titleX).attr('y', p.titleY)
      .style('font-size', '22px')
      .style('white-space', 'pre')
      .text(p.title);

    // legend
    p.legend.forEach(function(label, i) {
      var cy = p.legendY + i * p.legendStep;
      var s = seriesStyle[i];
      g.append('line')
        .attr('x1', p.legendX).attr('x2', p.legendX + 55)
        .attr('y1', cy).attr('y2', cy)
        .attr('stroke', s.color)
        .attr('stroke-width', s.width)
        .attr('stroke-dasharray', s.dash);
      g.append('text')
        .attr('x', p.legendX + 61).attr('y', cy + 8)
        .style('font-size', '22px')
        .text(label);
    });

    // axis titles
    g.append('text')
      .attr('transform', 'translate(24,' + p.strainY + ') rotate(-90)')
      .style('text-anchor', 'middle')
      .style('font-size', '22.5px')
      .text('Strain');
    g.append('text')
      .attr('x', (p.left + p.right) / 2).attr('y', p.bottom + 75)
      .style('text-anchor', 'middle')
      .style('font-size', '23px')
      .text('Time (ms)');
  }

  panels.forEach(drawPanel);
}());
</script>
</body>
</html>
